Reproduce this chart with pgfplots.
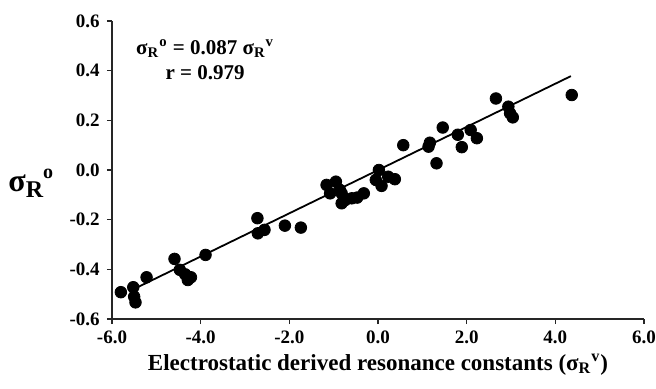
\documentclass[border=0pt]{standalone}
\usepackage{pgfplots}
\pgfplotsset{compat=1.18}
\usepackage{fontspec}
\setmainfont{Liberation Serif}
\usetikzlibrary{calc}
\begin{document}
\begin{tikzpicture}
\begin{axis}[
  scale only axis, width=266pt, height=149pt,
  xmin=-6, xmax=6, ymin=-0.6, ymax=0.6,
  axis lines*=left,
  axis line style={line width=0.9pt, black!85},
  xtick={-6,-4,-2,0,2,4,6},
  ytick={-0.6,-0.4,-0.2,0,0.2,0.4,0.6},
  tick align=outside, major tick length=2.6pt,
  tick style={line width=0.8pt, black!85},
  /pgf/number format/assume math mode=true,
  xticklabel style={/pgf/number format/fixed, /pgf/number format/fixed zerofill, /pgf/number format/precision=1, font=\fontsize{9.5}{11}\selectfont\bfseries},
  yticklabel style={/pgf/number format/fixed, /pgf/number format/fixed zerofill, /pgf/number format/precision=1, font=\fontsize{9.5}{11}\selectfont\bfseries},
  xlabel={Electrostatic derived resonance constants (σ\textsubscript{R}\textsuperscript{v})},
  xlabel style={font=\fontsize{11.5}{13}\selectfont\bfseries, yshift=2pt},
  clip=false,
]
\addplot[only marks, mark=*, mark size=2.9pt, black] coordinates {
(-5.80,-0.492) (-5.52,-0.472) (-5.50,-0.510) (-5.47,-0.533) (-5.22,-0.432)
(-4.59,-0.358) (-4.47,-0.402) (-4.35,-0.420) (-4.29,-0.443) (-4.22,-0.432)
(-3.89,-0.342) (-2.72,-0.194) (-2.71,-0.255) (-2.56,-0.241) (-2.10,-0.224)
(-1.74,-0.232) (-1.16,-0.060) (-1.08,-0.094) (-0.95,-0.047) (-0.86,-0.080)
(-0.82,-0.094) (-0.74,-0.121) (-0.82,-0.134) (-0.59,-0.114) (-0.47,-0.111)
(-0.32,-0.094) (0.02,0.000) (-0.05,-0.040) (0.08,-0.064) (0.23,-0.027)
(0.38,-0.037) (0.57,0.100) (1.14,0.094) (1.17,0.110) (1.32,0.027)
(1.46,0.171) (1.80,0.142) (1.89,0.092) (2.09,0.161) (2.23,0.128)
(2.66,0.288) (2.94,0.255) (2.98,0.228) (3.04,0.212) (4.37,0.302)
};
\addplot[black, line width=0.9pt] coordinates {(-5.41,-0.471) (4.35,0.378)};
\node[align=center, font=\fontsize{10.5}{12.5}\selectfont\bfseries] at (axis cs:-3.9,0.445)
  {σ\textsubscript{R}\textsuperscript{o} = 0.087 σ\textsubscript{R}\textsuperscript{v}\\ r = 0.979};
\coordinate (sw) at (rel axis cs:0,0);
\coordinate (ne) at (rel axis cs:1,1);
\coordinate (yl) at (rel axis cs:0,0.456);
\end{axis}
\node[anchor=west, inner sep=0pt, font=\fontsize{16}{18}\selectfont\bfseries] at ($(yl)+(-52pt,0)$)
  {σ\raisebox{-0.4ex}{\fontsize{12}{13}\selectfont R}\raisebox{0.9ex}{\fontsize{10}{11}\selectfont o}};
\pgfresetboundingbox
\path[use as bounding box] ($(sw)+(-56pt,-35pt)$) rectangle ($(ne)+(6pt,10.5pt)$);
\end{tikzpicture}
\end{document}
